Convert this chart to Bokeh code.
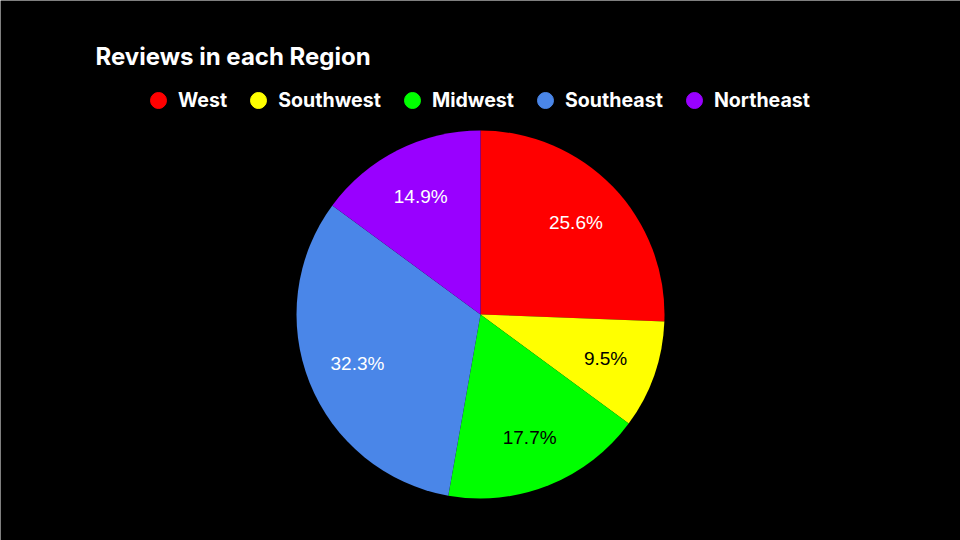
import math
from bokeh.plotting import figure
from bokeh.models import Range1d, Label, Legend, LegendItem, ColumnDataSource
from bokeh.core.properties import value
from bokeh.embed import file_html
from bokeh.resources import INLINE

# ---- data ----
regions = ["West", "Southwest", "Midwest", "Southeast", "Northeast"]
shares = [25.6, 9.5, 17.7, 32.3, 14.9]
colors = ["#ff0000", "#ffff00", "#00ff00", "#4a86e8", "#9900ff"]
label_colors = ["#ffffff", "#000000", "#000000", "#ffffff", "#ffffff"]
title_text = "Reviews in each Region"

# ---- layout ----
W, H = 960, 540
CX, CY, R = 480, H - 314, 184
LABEL_FRAC = 0.72

total = sum(shares)
starts, ends, lx, ly, texts = [], [], [], [], []
cum = 0.0
for s in shares:
    a0 = math.pi / 2 - 2 * math.pi * cum / total
    cum += s
    a1 = math.pi / 2 - 2 * math.pi * cum / total
    starts.append(a0)
    ends.append(a1)
    mid = (a0 + a1) / 2
    lx.append(CX + LABEL_FRAC * R * math.cos(mid))
    ly.append(CY + LABEL_FRAC * R * math.sin(mid))
    texts.append(f"{s / total * 100:.1f}%")

src = ColumnDataSource(dict(region=regions, start=starts, end=ends, color=colors,
                            lx=lx, ly=ly, text=texts, tcolor=label_colors))

p = figure(width=W, height=H, x_range=Range1d(0, W), y_range=Range1d(0, H),
           output_backend="svg", toolbar_location=None, min_border=0,
           x_axis_location=None, y_axis_location=None,
           background_fill_color="black", border_fill_color="black",
           outline_line_color=None)
p.grid.visible = False

p.wedge(x=CX, y=CY, radius=R, start_angle="start", end_angle="end",
        direction="clock", fill_color="color", line_color=None, source=src)

p.text(x="lx", y="ly", text="text", text_color="tcolor", source=src,
       text_align="center", text_baseline="middle",
       text_font=value("Liberation Sans"), text_font_size="19px")

# legend via marker-only renderers
items = []
for name, c in zip(regions, colors):
    r = p.scatter(x=[float("nan")], y=[float("nan")], marker="circle",
                  size=16, fill_color=c, line_color=c)
    items.append(LegendItem(label=name, renderers=[r]))

legend = Legend(items=items, orientation="horizontal", location=(138, H - 100 - 20),
                glyph_width=40, glyph_height=40, label_standoff=0, spacing=11,
                padding=0, margin=0, border_line_color=None,
                background_fill_alpha=0,
                label_text_font="Inter", label_text_font_style="bold",
                label_text_font_size="19.6px", label_text_color="#ffffff")
p.add_layout(legend, "center")

p.add_layout(Label(x=95, y=H - 56, x_units="screen", y_units="screen",
                   text=title_text, text_font="Inter", text_font_style="bold",
                   text_font_size="24px", text_color="#ffffff",
                   text_baseline="middle", text_align="left"))

open("out.html", "w").write(file_html(p, INLINE))
